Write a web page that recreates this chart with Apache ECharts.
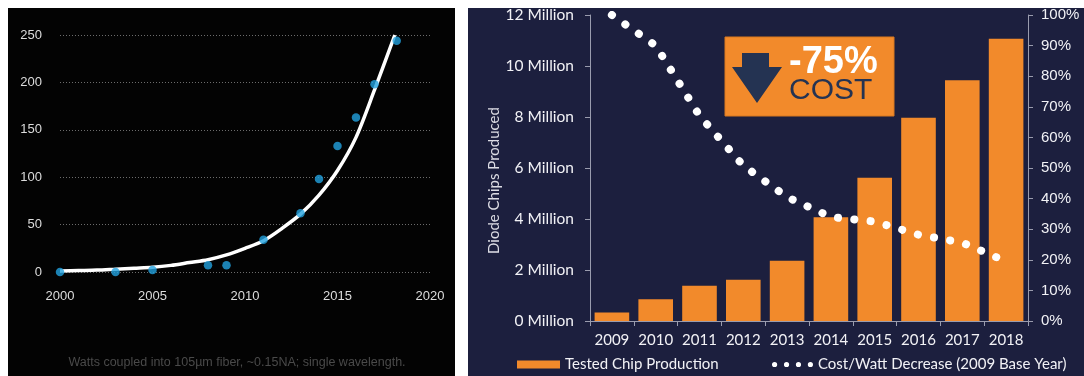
<!DOCTYPE html>
<html>
<head>
<meta charset="utf-8">
<script src="https://cdn.jsdelivr.net/npm/echarts@6/dist/echarts.min.js"></script>
<style>
  html, body { margin: 0; padding: 0; background: #ffffff; }
  #chart { width: 1084px; height: 376px; }
</style>
</head>
<body>
<div id="chart"></div>
<script>
// Left panel: single-emitter power coupled into fiber (W) by year
const measYears = [2000, 2003, 2005, 2008, 2009, 2011, 2013, 2014, 2015, 2016, 2017, 2018.2];
const measWatts = [0, 0, 2, 7, 7, 34, 62, 98, 133, 163, 198, 244];
// Trend curve through the measurements
const trendYears = [2000, 2001, 2002, 2003, 2004, 2005, 2006, 2007, 2008, 2009, 2010, 2011, 2012, 2013, 2014, 2015, 2016, 2017, 2018.1];
const trendWatts = [1, 1.5, 2, 3, 4, 5, 7, 10, 13, 18, 25, 33, 46, 61, 81, 107, 142, 192, 250];

// Right panel: diode chip production and cost per watt
const years = ['2009', '2010', '2011', '2012', '2013', '2014', '2015', '2016', '2017', '2018'];
const chipsMillion = [0.33, 0.85, 1.38, 1.62, 2.36, 4.07, 5.62, 7.97, 9.44, 11.07];
const costPct = [100, 90, 67.1, 50.8, 40.5, 34, 32.5, 28.2, 25.6, 19.5];

const NAVY = '#1c1f3e';
const ORANGE = '#f28a2b';
const DARK = '#243352';
const RIGHT_FONT = 'Lato, "Open Sans", sans-serif';
const ARIAL = '"Liberation Sans", Arial, sans-serif';

const chart = echarts.init(document.getElementById('chart'), null, { renderer: 'canvas' });

const fourDots = 'path://M0,2.5a2.5,2.5 0 1,0 5,0a2.5,2.5 0 1,0 -5,0Z' +
  'M11.5,2.5a2.5,2.5 0 1,0 5,0a2.5,2.5 0 1,0 -5,0Z' +
  'M23,2.5a2.5,2.5 0 1,0 5,0a2.5,2.5 0 1,0 -5,0Z' +
  'M34.5,2.5a2.5,2.5 0 1,0 5,0a2.5,2.5 0 1,0 -5,0Z';

chart.setOption({
  animation: false,
  backgroundColor: 'transparent',
  graphic: [
    { type: 'rect', z: -10, silent: true, shape: { x: 8, y: 8, width: 447, height: 368 }, style: { fill: '#030303' } },
    { type: 'rect', z: -10, silent: true, shape: { x: 468, y: 8, width: 616, height: 368 }, style: { fill: NAVY } },
    { type: 'text', z: 50, silent: true, x: 237, y: 363,
      style: { text: 'Watts coupled into 105µm fiber, ~0.15NA; single wavelength.', font: '12.5px ' + ARIAL, fill: '#4a4a4a', align: 'center', verticalAlign: 'middle' } },
    // Cost callout
    { type: 'rect', z: 100, silent: true, shape: { x: 725, y: 37, width: 169, height: 79 }, style: { fill: ORANGE, stroke: '#d9781f', lineWidth: 1 } },
    { type: 'polygon', z: 101, silent: true,
      shape: { points: [[742, 53], [769, 53], [769, 67], [782, 67], [757, 103], [732, 67], [742, 67]] },
      style: { fill: DARK } },
    { type: 'text', z: 101, silent: true, x: 789, y: 63,
      style: { text: '-75%', font: 'bold 38px ' + ARIAL, fill: '#ffffff', align: 'left', verticalAlign: 'middle' } },
    { type: 'text', z: 101, silent: true, x: 789, y: 91,
      style: { text: 'COST', font: '30px ' + ARIAL, fill: DARK, align: 'left', verticalAlign: 'middle' } },
    // white strip along the top edge
    { type: 'rect', z: 200, silent: true, shape: { x: 0, y: 0, width: 1084, height: 8 }, style: { fill: '#ffffff' } }
  ],
  legend: [
    {
      data: ['Tested Chip Production'],
      left: 512, top: 352,
      icon: 'rect', itemWidth: 43, itemHeight: 8,
      itemStyle: { borderWidth: 0 },
      textStyle: { color: '#f2f2f6', fontFamily: RIGHT_FONT, fontSize: 15 },
      selectedMode: false
    },
    {
      data: ['Cost/Watt Decrease (2009 Base Year)'],
      left: 767, top: 352,
      icon: fourDots, itemWidth: 41, itemHeight: 5.5,
      itemStyle: { borderWidth: 0, color: '#ffffff' },
      textStyle: { color: '#f2f2f6', fontFamily: RIGHT_FONT, fontSize: 15 },
      selectedMode: false
    }
  ],
  grid: [
    { left: 60, right: 654, top: 35, bottom: 104 },
    { left: 590, right: 56, top: 15, bottom: 55 }
  ],
  xAxis: [
    {
      gridIndex: 0, type: 'value', min: 2000, max: 2020, interval: 5,
      axisLine: { show: false }, axisTick: { show: false }, splitLine: { show: false },
      axisLabel: { color: '#dcdcdc', fontFamily: ARIAL, fontSize: 13, margin: 18, formatter: (v) => String(v) }
    },
    {
      gridIndex: 1, type: 'category', data: years,
      axisLine: { show: true, lineStyle: { color: '#9a9cae', width: 1 } },
      axisTick: { show: true, length: 5, lineStyle: { color: '#9a9cae' } },
      axisLabel: { color: '#f2f2f6', fontFamily: RIGHT_FONT, fontSize: 15, margin: 12, interval: 0 }
    }
  ],
  yAxis: [
    {
      gridIndex: 0, type: 'value', min: 0, max: 250, interval: 50,
      axisLine: { show: false }, axisTick: { show: false },
      splitLine: { show: true, lineStyle: { color: '#6c6c6c', type: [1, 2], width: 1 } },
      axisLabel: { color: '#dcdcdc', fontFamily: ARIAL, fontSize: 13, margin: 18 }
    },
    {
      gridIndex: 1, type: 'value', min: 0, max: 12, interval: 2, position: 'left',
      name: 'Diode Chips Produced', nameLocation: 'middle', nameRotate: 90, nameGap: 76,
      nameTextStyle: { color: '#dcdce4', fontFamily: RIGHT_FONT, fontSize: 15, padding: [0, 25, 0, 0] },
      axisLine: { show: true, lineStyle: { color: '#9a9cae', width: 1 } },
      axisTick: { show: true, length: 5, lineStyle: { color: '#9a9cae' } },
      splitLine: { show: false },
      axisLabel: { color: '#f2f2f6', fontFamily: RIGHT_FONT, fontSize: 15.5, margin: 16, formatter: '{value} Million' }
    },
    {
      gridIndex: 1, type: 'value', min: 0, max: 100, interval: 10, position: 'right',
      axisLine: { show: true, lineStyle: { color: '#9a9cae', width: 1 } },
      axisTick: { show: true, length: 5, lineStyle: { color: '#9a9cae' } },
      splitLine: { show: false },
      axisLabel: { color: '#f2f2f6', fontFamily: ARIAL, fontSize: 15, margin: 13, formatter: '{value}%' }
    }
  ],
  series: [
    {
      name: 'Trend', type: 'line', xAxisIndex: 0, yAxisIndex: 0,
      data: trendYears.map((y, i) => [y, trendWatts[i]]),
      smooth: 0.3, symbol: 'none', z: 3,
      lineStyle: { color: '#ffffff', width: 3.5 }
    },
    {
      name: 'Measured', type: 'scatter', xAxisIndex: 0, yAxisIndex: 0,
      data: measYears.map((y, i) => [y, measWatts[i]]),
      symbolSize: 8.5, z: 4,
      itemStyle: { color: '#23a3e0' }
    },
    {
      name: 'Tested Chip Production', type: 'bar', xAxisIndex: 1, yAxisIndex: 1,
      data: chipsMillion, barCategoryGap: '21%',
      itemStyle: { color: ORANGE }
    },
    {
      name: 'Cost/Watt Decrease (2009 Base Year)', type: 'line', xAxisIndex: 1, yAxisIndex: 2,
      data: costPct, symbol: 'none', clip: true, z: 5,
      color: '#ffffff',
      lineStyle: { color: '#ffffff', width: 8, type: [0.1, 16.3], cap: 'round' }
    }
  ]
});
</script>
</body>
</html>
